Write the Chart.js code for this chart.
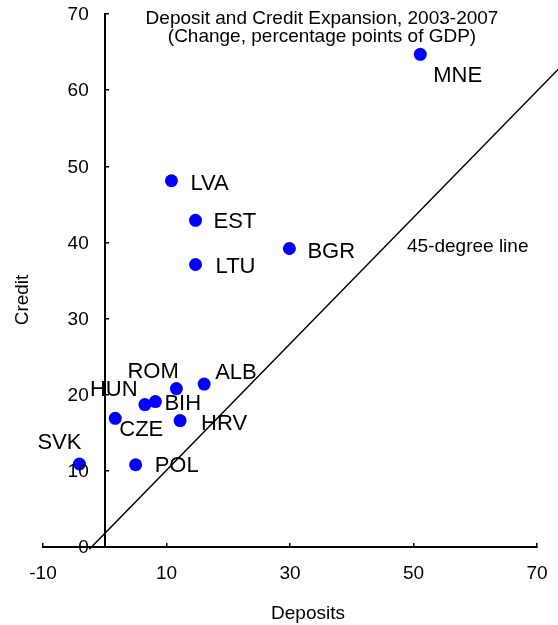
<!DOCTYPE html>
<html>
<head>
<meta charset="utf-8">
<script src="https://cdn.jsdelivr.net/npm/chart.js"></script>
<style>
  html, body { margin: 0; padding: 0; background: #fff; }
  #wrap { width: 558px; height: 625px; position: relative; }
</style>
</head>
<body>
<div id="wrap"><canvas id="chart"></canvas></div>
<script>
  // Data
  const countries = ['MNE', 'LVA', 'EST', 'LTU', 'BGR', 'ALB', 'ROM', 'BIH', 'HUN', 'CZE', 'HRV', 'SVK', 'POL'];
  const deposits = [51.1, 10.8, 14.7, 14.7, 29.9, 16.1, 11.6, 8.2, 6.5, 1.7, 12.2, -4.1, 5.0];
  const credit = [64.7, 48.1, 42.9, 37.1, 39.2, 21.4, 20.8, 19.1, 18.7, 16.9, 16.6, 10.9, 10.8];

  // The "45-degree line" as drawn in the source
  const lineX = [-2.5, 73.5];
  const lineY = [-0.3, 62.8];

  const xTicks = [-10, 10, 30, 50, 70];
  const yTicks = [0, 10, 20, 30, 40, 50, 60, 70];

  // label placement next to each marker (px: dx to text start, dy to baseline)
  const labelOffsets = [
    [13, 28], [19, 9], [18, 8], [20, 8], [18, 9], [11, -5], [-49, -11],
    [9, 8], [-55, -9], [4, 18], [21, 9], [-42, -15], [19, 7]
  ];

  const FONT = '"Liberation Sans", Arial, sans-serif';

  const noPad = (s) => { s.paddingTop = 0; s.paddingBottom = 0; s.paddingLeft = 0; s.paddingRight = 0; };

  const textPlugin = {
    id: 'texts',
    afterDatasetsDraw(chart) {
      const ctx = chart.ctx;
      const xs = chart.scales.x, ys = chart.scales.y;
      ctx.save();
      ctx.fillStyle = '#000';

      // y tick labels sit left of the axis that crosses at x = 0
      ctx.font = '19px ' + FONT;
      ctx.textAlign = 'right';
      ctx.textBaseline = 'middle';
      const axisX = xs.getPixelForValue(0);
      ys.ticks.forEach((t) => {
        ctx.fillText(String(t.value), axisX - 16, ys.getPixelForValue(t.value) + 1);
      });

      // point labels
      const meta = chart.getDatasetMeta(0);
      ctx.font = '22px ' + FONT;
      ctx.textAlign = 'left';
      ctx.textBaseline = 'alphabetic';
      meta.data.forEach((pt, i) => {
        const off = labelOffsets[i];
        ctx.fillText(countries[i], pt.x + off[0], pt.y + off[1]);
      });

      // chart title
      ctx.font = '19px ' + FONT;
      ctx.textAlign = 'center';
      ctx.fillText('Deposit and Credit Expansion, 2003-2007', 322, 24);
      ctx.fillText('(Change, percentage points of GDP)', 322, 42);

      // line note
      ctx.textAlign = 'left';
      ctx.fillText('45-degree line', 407, 252);

      // axis titles
      ctx.textAlign = 'center';
      ctx.fillText('Deposits', 308, 619);
      ctx.translate(28, 300);
      ctx.rotate(-Math.PI / 2);
      ctx.fillText('Credit', 0, 0);
      ctx.restore();
    }
  };

  new Chart(document.getElementById('chart'), {
    type: 'scatter',
    data: {
      datasets: [
        {
          data: deposits.map((d, i) => ({ x: d, y: credit[i] })),
          backgroundColor: '#0000ff',
          borderColor: '#0000ff',
          borderWidth: 0,
          pointRadius: 6.5,
          pointHoverRadius: 6.5
        },
        {
          type: 'line',
          data: lineX.map((x, i) => ({ x, y: lineY[i] })),
          borderColor: '#000',
          borderWidth: 1.5,
          pointRadius: 0,
          fill: false,
          clip: false
        }
      ]
    },
    options: {
      responsive: true,
      maintainAspectRatio: false,
      animation: false,
      events: [],
      layout: { padding: { left: 43, right: 21, top: 14, bottom: 78 } },
      plugins: { legend: { display: false }, tooltip: { enabled: false }, title: { display: false } },
      scales: {
        x: {
          type: 'linear',
          position: { y: 0 },
          min: -10,
          max: 70,
          afterBuildTicks: (s) => { s.ticks = xTicks.map((v) => ({ value: v })); },
          afterFit: noPad,
          ticks: { color: '#000', font: { family: FONT, size: 19 }, padding: 20 },
          grid: { drawOnChartArea: false, drawTicks: true, tickLength: -5, color: '#000', lineWidth: 1.5 },
          border: { display: true, color: '#000', width: 2 }
        },
        y: {
          type: 'linear',
          position: { x: 0 },
          min: 0,
          max: 70,
          afterBuildTicks: (s) => { s.ticks = yTicks.map((v) => ({ value: v })); },
          afterFit: noPad,
          ticks: { display: false },
          grid: { drawOnChartArea: false, drawTicks: true, tickLength: -5, color: '#000', lineWidth: 1.5 },
          border: { display: true, color: '#000', width: 2 }
        }
      }
    },
    plugins: [textPlugin]
  });
</script>
</body>
</html>
